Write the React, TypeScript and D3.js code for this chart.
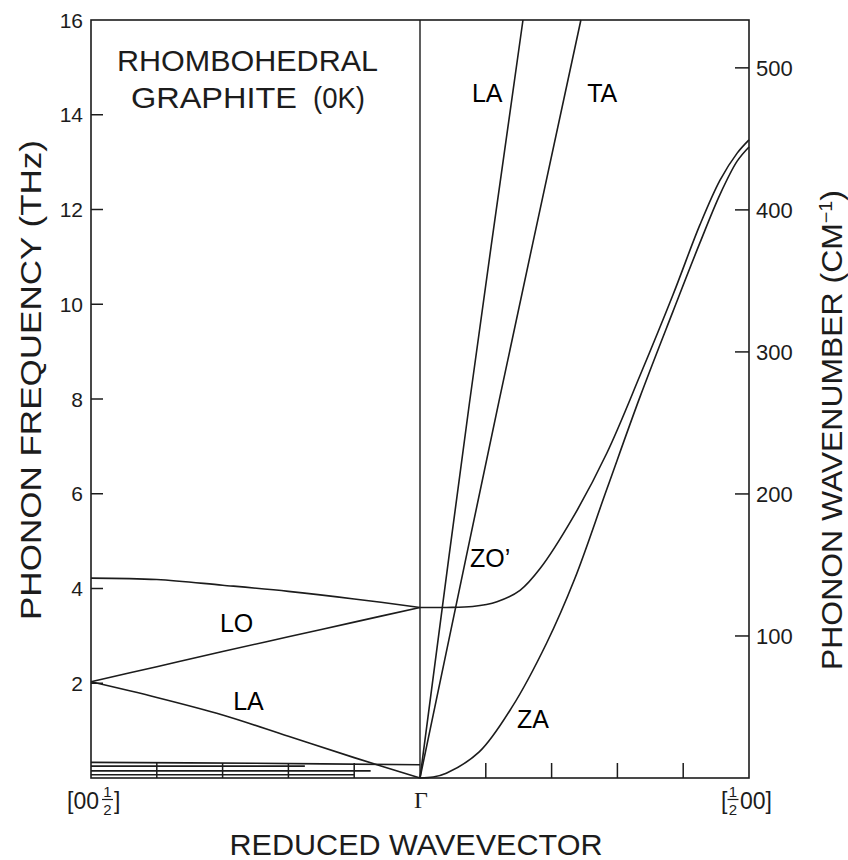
import React from 'react';
import * as d3 from 'd3';

// reduced wavevector: -1 = [00½], 0 = Γ, 1 = [½00]; frequency in THz
const THZ_TO_CM = 33.356;

const thzTicks = [2, 4, 6, 8, 10, 12, 14, 16];
const cmTicks = [100, 200, 300, 400, 500];
const qTicks = [-0.8, -0.6, -0.4, -0.2, 0.2, 0.4, 0.6, 0.8];

// left panel, Γ -> [00½]
const toLeft: [number, number][] = [[-1, 4.22], [-0.8, 4.19], [-0.6, 4.07], [-0.4, 3.94], [-0.2, 3.78], [0, 3.6]];
const loLeft: [number, number][] = [[-1, 2.03], [-0.8, 2.35], [-0.6, 2.67], [-0.4, 2.98], [-0.2, 3.29], [0, 3.6]];
const laLeft: [number, number][] = [[-1, 2.03], [-0.8, 1.7], [-0.6, 1.33], [-0.4, 0.88], [-0.2, 0.43], [0, 0]];
const lowA: [number, number][] = [[-1, 0.33], [-0.5, 0.31], [0, 0.28]];
const lowB: [number, number][] = [[-1, 0.25], [-0.35, 0.25]];
const lowC: [number, number][] = [[-1, 0.15], [-0.15, 0.15]];
const lowD: [number, number][] = [[-1, 0.07], [-0.2, 0.07]];

// right panel, Γ -> [½00]
const zoRight: [number, number][] = [[0, 3.6], [0.08, 3.6], [0.16, 3.62], [0.234, 3.72], [0.304, 3.96], [0.365, 4.42], [0.465, 5.5], [0.568, 6.86], [0.669, 8.5], [0.769, 10.2], [0.851, 11.68], [0.912, 12.62], [0.964, 13.19], [1, 13.47]];
const zaRight: [number, number][] = [[0, 0], [0.04, 0.02], [0.08, 0.1], [0.18, 0.55], [0.28, 1.5], [0.385, 2.85], [0.47, 4.2], [0.568, 6.1], [0.669, 8.05], [0.769, 9.85], [0.851, 11.3], [0.912, 12.32], [0.964, 13.02], [1, 13.32]];
const laRight: [number, number][] = [[0, 0], [0.15, 7.9], [0.313, 16]];
const taRight: [number, number][] = [[0, 0], [0.24, 7.95], [0.489, 16]];

const branches = [toLeft, loLeft, laLeft, lowA, lowB, lowC, lowD, zoRight, zaRight, laRight, taRight];

const branchLabels = [
  { text: 'LA', q: 0.158, f: 14.27 },
  { text: 'TA', q: 0.508, f: 14.27 },
  { text: 'LO', q: -0.608, f: 3.08 },
  { text: 'LA', q: -0.568, f: 1.43 },
  { text: 'ZO\u2019', q: 0.152, f: 4.45 },
  { text: 'ZA', q: 0.295, f: 1.05 },
];

const ink = '#1c1c1c';
const sans = '"Liberation Sans", Arial, Helvetica, sans-serif';

export default function App() {
  const width = 848;
  const height = 860;

  const x = d3.scaleLinear().domain([-1, 1]).range([91, 749]);
  const y = d3.scaleLinear().domain([0, 16]).range([778, 20]);
  const yCm = d3.scaleLinear().domain([0, 16 * THZ_TO_CM]).range([778, 20]);

  const path = d3.line<[number, number]>()
    .x(d => x(d[0]))
    .y(d => y(d[1]))
    .curve(d3.curveCatmullRom.alpha(0.5));

  const x0 = x(-1);
  const x1 = x(1);
  const yb = y(0);

  return (
    <svg width={width} height={height} style={{ position: 'absolute', left: 0, top: 0, background: '#fff' }}>
      {/* frame and Γ divider */}
      <rect x={x0} y={y(16)} width={x1 - x0} height={yb - y(16)} fill="none" stroke={ink} strokeWidth={1.6} />
      <line x1={x(0)} x2={x(0)} y1={y(16)} y2={yb} stroke={ink} strokeWidth={1.4} />

      {/* left axis THz */}
      {thzTicks.map(t => (
        <g key={'l' + t}>
          {t < 16 && <line x1={x0} x2={x0 + 12} y1={y(t)} y2={y(t)} stroke={ink} strokeWidth={1.5} />}
          <text x={83} y={y(t)} dy="0.36em" textAnchor="end" fontSize={21} fontFamily={sans} fill={ink}>{t}</text>
        </g>
      ))}

      {/* right axis cm-1 */}
      {cmTicks.map(t => (
        <g key={'r' + t}>
          <line x1={x1 - 14} x2={x1} y1={yCm(t)} y2={yCm(t)} stroke={ink} strokeWidth={1.5} />
          <text x={x1 + 7} y={yCm(t)} dy="0.36em" fontSize={22} fontFamily={sans} fill={ink}>{t}</text>
        </g>
      ))}

      {/* bottom ticks */}
      {qTicks.map(q => (
        <line key={'q' + q} x1={x(q)} x2={x(q)} y1={yb} y2={yb - 15} stroke={ink} strokeWidth={1.5} />
      ))}

      {/* dispersion branches */}
      {branches.map((b, i) => (
        <path key={i} d={path(b) || ''} fill="none" stroke={ink} strokeWidth={1.6} />
      ))}

      {branchLabels.map((l, i) => (
        <text key={'b' + i} x={x(l.q)} y={y(l.f)} fontSize={25} fontFamily={sans} fill="#000">{l.text}</text>
      ))}

      {/* title */}
      <text x={117} y={71} fontSize={29} fontFamily={sans} fill={ink} textLength={261} lengthAdjust="spacingAndGlyphs">RHOMBOHEDRAL</text>
      <text x={131} y={108} fontSize={29} fontFamily={sans} fill={ink} textLength={166} lengthAdjust="spacingAndGlyphs">GRAPHITE</text>
      <text x={313} y={108} fontSize={29} fontFamily={sans} fill={ink} textLength={52} lengthAdjust="spacingAndGlyphs">(0K)</text>

      {/* bottom labels */}
      <text x={x0 - 24} y={809} fontSize={23} fontFamily={sans} fill={ink}>[00</text>
      <text x={x0 + 16.5} y={797} fontSize={15} textAnchor="middle" fontFamily={sans} fill={ink}>1</text>
      <line x1={x0 + 11} x2={x0 + 22} y1={799.5} y2={799.5} stroke={ink} strokeWidth={1.2} />
      <text x={x0 + 16.5} y={815} fontSize={15} textAnchor="middle" fontFamily={sans} fill={ink}>2</text>
      <text x={x0 + 23} y={809} fontSize={23} fontFamily={sans} fill={ink}>]</text>

      <text x={x(0) + 1} y={808} fontSize={24} textAnchor="middle" fontFamily='"Liberation Serif", "DejaVu Serif", serif' fill={ink}>Γ</text>

      <text x={x1 - 28} y={809} fontSize={23} fontFamily={sans} fill={ink}>[</text>
      <text x={x1 - 16} y={797} fontSize={15} textAnchor="middle" fontFamily={sans} fill={ink}>1</text>
      <line x1={x1 - 21.5} x2={x1 - 10.5} y1={799.5} y2={799.5} stroke={ink} strokeWidth={1.2} />
      <text x={x1 - 16} y={815} fontSize={15} textAnchor="middle" fontFamily={sans} fill={ink}>2</text>
      <text x={x1 - 9} y={809} fontSize={23} fontFamily={sans} fill={ink}>00]</text>

      {/* axis titles */}
      <text x={416} y={855} textAnchor="middle" fontSize={30} fontFamily={sans} fill={ink} textLength={373} lengthAdjust="spacingAndGlyphs">REDUCED WAVEVECTOR</text>
      <text transform="translate(41,380) rotate(-90)" textAnchor="middle" fontSize={29} fontFamily={sans} fill={ink} textLength={480} lengthAdjust="spacingAndGlyphs">PHONON FREQUENCY  (THz)</text>
      <text transform="translate(842,430) rotate(-90)" textAnchor="middle" fontSize={29} fontFamily={sans} fill={ink} textLength={480} lengthAdjust="spacingAndGlyphs">
        PHONON WAVENUMBER  (CM<tspan dy={-10} fontSize={18}>−1</tspan><tspan dy={10}>)</tspan>
      </text>
    </svg>
  );
}
